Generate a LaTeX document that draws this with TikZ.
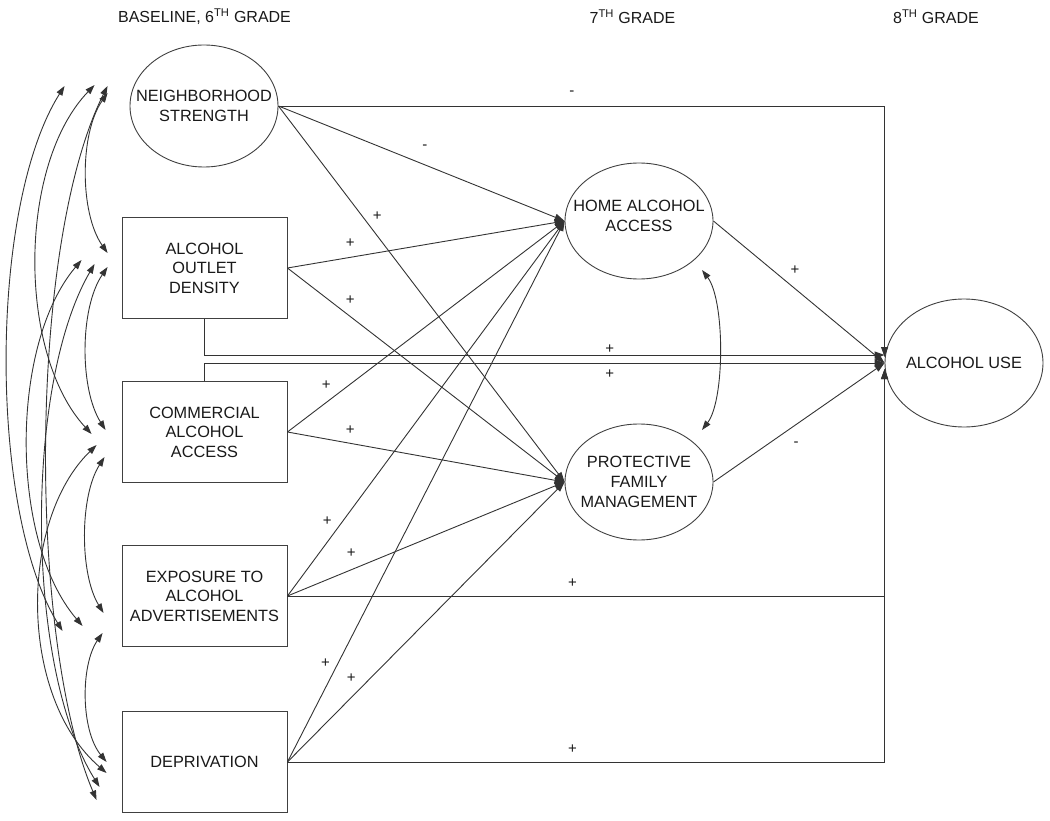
\documentclass[tikz,border=0pt]{standalone}
\usepackage{fontspec}
\setmainfont{Liberation Sans}
\usetikzlibrary{arrows.meta,shapes.geometric,calc}
\begin{document}
\begin{tikzpicture}[x=1pt,y=-1pt,
  line/.style={draw=black!80, line width=0.9pt},
  arr/.style={line, -{Triangle[length=10pt,width=7pt]}},
  cov/.style={line, {Triangle[length=9.5pt,width=6.5pt]}-{Triangle[length=9.5pt,width=6.5pt]}},
  ell/.style={ellipse, draw=black!75, line width=0.9pt, inner sep=0pt},
  etext/.style={align=center, font=\fontsize{16.3}{20}\selectfont, text=black!90},
  box/.style={rectangle, draw=black!75, line width=0.9pt, minimum width=165pt, minimum height=101pt, align=center, font=\fontsize{16.3}{19.5}\selectfont, text=black!90},
  lbl/.style={font=\fontsize{15}{15}\selectfont, inner sep=0pt, text=black!90},
  hdr/.style={font=\fontsize{16}{19}\selectfont, text=black!90}]
\useasboundingbox (0,0) rectangle (1050,821);

% headers
\node[hdr] (h6) at (204.5,17) {BASELINE, 6\textsuperscript{TH} GRADE};
\node[hdr] (h7) at (632.5,17) {7\textsuperscript{TH} GRADE};
\node[hdr] (h8) at (936,17) {8\textsuperscript{TH} GRADE};

% nodes
\node[ell, minimum width=148pt, minimum height=122pt, label={[etext]center:NEIGHBORHOOD\\STRENGTH}] (ns) at (204,106) {};
\node[box] (aod) at (204.5,268) {ALCOHOL\\OUTLET\\DENSITY};
\node[box] (caa) at (204.5,432) {COMMERCIAL\\ALCOHOL\\ACCESS};
\node[box] (exp) at (204.5,596) {EXPOSURE TO\\ALCOHOL\\ADVERTISEMENTS};
\node[box] (dep) at (204.5,762) {DEPRIVATION};
\node[ell, minimum width=148pt, minimum height=116pt, label={[etext, yshift=5pt]center:HOME ALCOHOL\\ACCESS}] (haa) at (639,221) {};
\node[ell, minimum width=148pt, minimum height=116pt, label={[etext]center:PROTECTIVE\\FAMILY\\MANAGEMENT}] (pfm) at (639,482) {};
\node[ell, minimum width=158pt, minimum height=128pt, label={[etext]center:ALCOHOL USE}] (au) at (964,363) {};

% paths to alcohol use
\draw[arr] (ns.east) -| node[lbl,pos=0.242,yshift=13pt]{-} ([yshift=6pt]au.west);
\draw[arr] (aod.south) |- node[lbl,pos=0.798,yshift=6pt]{+} ([yshift=8pt]au.west);
\draw[arr] (caa.north) |- node[lbl,pos=0.798,yshift=-11pt]{+} (au.west);
\draw[arr] (exp.east) -| node[lbl,pos=0.2387,yshift=13pt]{+} ([yshift=-6pt]au.west);
\draw[arr] (dep.east) -| node[lbl,pos=0.2387,yshift=13pt]{+} ([yshift=-6pt]au.west);
\draw[arr] (haa.east) -- node[lbl,pos=0.477,yshift=19pt]{+} (au.west);
\draw[arr] (pfm.east) -- node[lbl,pos=0.483,yshift=-19.5pt]{-} (au.west);

% paths to home alcohol access
\draw[arr] (ns.east) -- node[lbl,pos=0.512,yshift=18pt]{-} (haa.west);
\draw[arr] (aod.east) -- node[lbl,pos=0.2266,yshift=14pt]{+} (haa.west);
\draw[arr] (caa.east) -- node[lbl,pos=0.14,yshift=17pt]{+} (haa.west);
\draw[arr] (exp.east) -- node[lbl,pos=0.144,yshift=21pt]{+} (haa.west);
\draw[arr] (dep.east) -- node[lbl,pos=0.137,yshift=25pt]{+} (haa.west);

% paths to protective family management
\draw[arr] (ns.east) -- node[lbl,pos=0.345,yshift=20pt]{+} (pfm.west);
\draw[arr] (aod.east) -- node[lbl,pos=0.2266,yshift=16.5pt]{+} (pfm.west);
\draw[arr] (caa.east) -- node[lbl,pos=0.2266,yshift=13pt]{+} (pfm.west);
\draw[arr] (exp.east) -- node[lbl,pos=0.23,yshift=17pt]{+} (pfm.west);
\draw[arr] (dep.east) -- node[lbl,pos=0.23,yshift=19pt]{+} (pfm.west);

% covariance between mediators
\draw[cov] ([shift={(63,49)}]haa.center) .. controls +(23,30) and +(23,-30) .. ([shift={(63,-52)}]pfm.center);

% covariances among baseline variables
\draw[cov] ([shift={(-22,-13)}]ns.west) .. controls +(-28,40) and +(-28,-40) .. ([shift={(-14,-15)}]aod.west);
\draw[cov] ([shift={(-35,-21)}]ns.west) .. controls +(-77,80) and +(-74,-80) .. ([shift={(-30,2)}]caa.west);
\draw[cov] ([shift={(-65,-20)}]ns.west) .. controls +(-76,120) and +(-74,-120) .. ([shift={(-59,35)}]exp.west);
\draw[cov] ([shift={(-22,-20)}]ns.west) .. controls +(-80,160) and +(-68,-160) .. ([shift={(-25,38)}]dep.west);
\draw[cov] ([shift={(-14,-1)}]aod.west) .. controls +(-28,41) and +(-26,-41) .. ([shift={(-16,-2)}]caa.west);
\draw[cov] ([shift={(-40,-8)}]aod.west) .. controls +(-72,85) and +(-73,-85) .. ([shift={(-39,30)}]exp.west);
\draw[cov] ([shift={(-27,-4)}]aod.west) .. controls +(-70,120) and +(-75,-120) .. ([shift={(-22,25)}]dep.west);
\draw[cov] ([shift={(-17,25)}]caa.west) .. controls +(-25,39) and +(-24,-39) .. ([shift={(-18,17)}]exp.west);
\draw[cov] ([shift={(-25,13)}]caa.west) .. controls +(-78,76) and +(-88,-76) .. ([shift={(-15,11)}]dep.west);
\draw[cov] ([shift={(-19,37)}]exp.west) .. controls +(-22,32) and +(-26,-32) .. ([shift={(-15,0)}]dep.west);
\end{tikzpicture}
\end{document}
